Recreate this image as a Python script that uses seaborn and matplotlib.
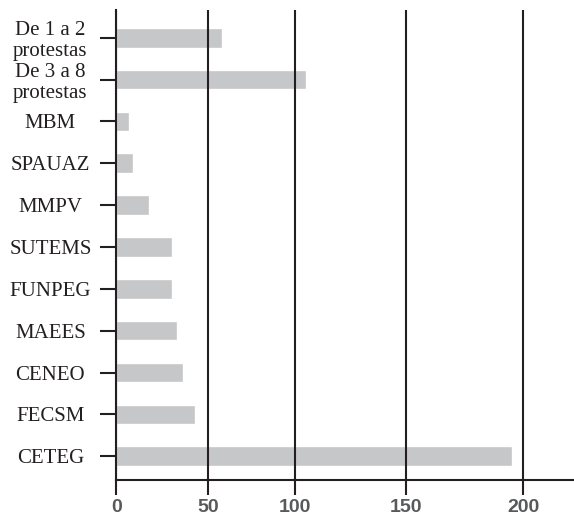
import numpy as np
import pandas as pd
import matplotlib
matplotlib.use("Agg")
import matplotlib.pyplot as plt
import seaborn as sns

# ---- data ----
categories = ["De 1 a 2\nprotestas", "De 3 a 8\nprotestas", "MBM", "SPAUAZ", "MMPV",
              "SUTEMS", "FUNPEG", "MAEES", "CENEO", "FECSM", "CETEG"]
values = [58, 105, 7, 9, 18, 30, 30, 33, 36, 43, 195]
x_ticks = [0, 50, 100, 150, 200]

df = pd.DataFrame({"grupo": categories, "protestas": values})

# ---- style ----
sns.set_style("white")
ink = "#231f20"
bar_color = "#c6c7c8"
tick_gray = "#58595b"

fig = plt.figure(figsize=(5.74, 5.19), dpi=100)
ax = fig.add_axes([116.3 / 574, 39.5 / 519, (574 - 116.3) / 574, 469.5 / 519])

sns.barplot(data=df, x="protestas", y="grupo", orient="h", color=bar_color,
            saturation=1, width=0.47, ax=ax, zorder=1)

# the reference's gridlines are unevenly spaced: reproduce with a piecewise-linear scale
knot_vals = np.array([-1000, 0, 50, 100, 150, 200, 1000], dtype=float)
knot_pos = np.array([116.3 - 1000 * 92 / 50, 116.3, 208.3, 295.3, 406.2, 523.3,
                     523.3 + 800 * 117.1 / 50])


def fwd(x):
    return np.interp(x, knot_vals, knot_pos)


def inv(p):
    return np.interp(p, knot_pos, knot_vals)


ax.set_xscale("function", functions=(fwd, inv))
ax.set_xlim(0, 200 + (574 - 523.3) / 117.1 * 50)
ax.set_xticks(x_ticks)
ax.set_xticklabels([str(t) for t in x_ticks])
ax.set_ylim(len(categories) - 0.444, -0.661)

ax.set_axisbelow(False)
ax.grid(axis="x", color=ink, lw=1.5)
ax.grid(axis="y", visible=False)

for side in ["top", "right"]:
    ax.spines[side].set_visible(False)
for side in ["left", "bottom"]:
    ax.spines[side].set_visible(True)
    ax.spines[side].set_color(ink)
    ax.spines[side].set_linewidth(1.5)

ax.set_xlabel("")
ax.set_ylabel("")

ax.tick_params(axis="x", direction="out", length=11, width=1.5, color=ink,
               pad=3, bottom=True)
ax.tick_params(axis="y", direction="out", length=11.5, width=1.5, color=ink,
               pad=36, left=True)

for lab in ax.get_xticklabels():
    lab.set_fontfamily("Liberation Sans")
    lab.set_fontweight("bold")
    lab.set_fontsize(14)
    lab.set_color(tick_gray)

for lab in ax.get_yticklabels():
    lab.set_fontfamily("Liberation Serif")
    lab.set_fontsize(15)
    lab.set_color(ink)
    lab.set_horizontalalignment("center")
    lab.set_multialignment("center")
    lab.set_linespacing(1.15)

fig.savefig("out.png", dpi=100)
